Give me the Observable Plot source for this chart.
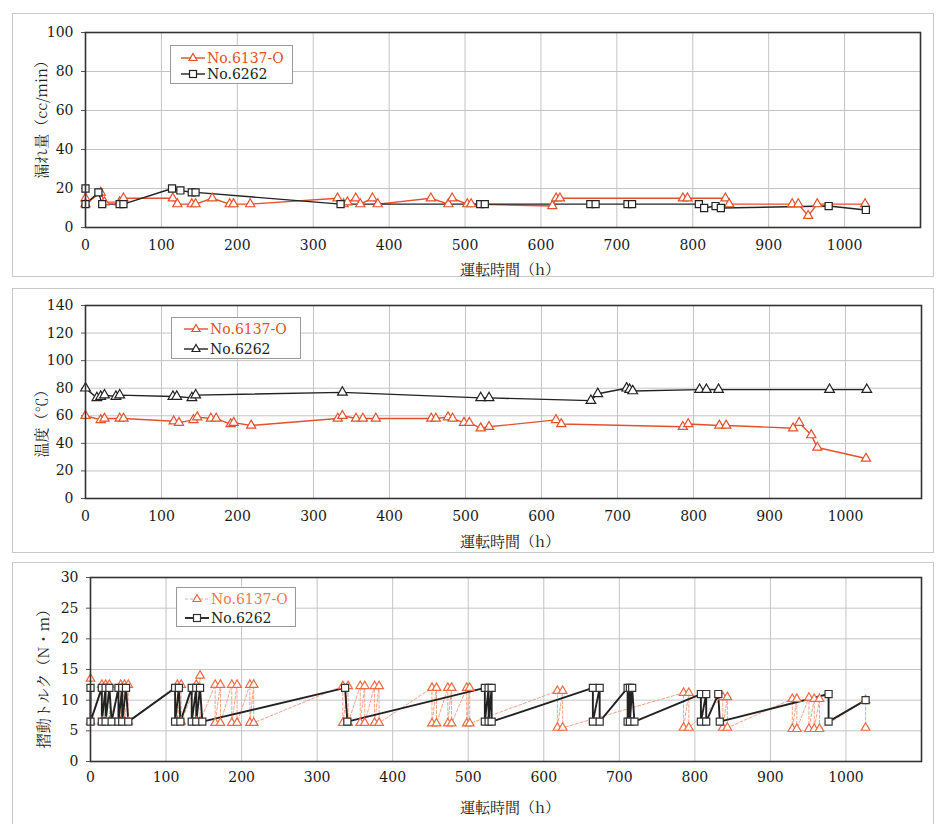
<!DOCTYPE html>
<html>
<head>
<meta charset="utf-8">
<script src="https://cdn.jsdelivr.net/npm/d3@7"></script>
<script src="https://cdn.jsdelivr.net/npm/@observablehq/plot@0.6"></script>
<style>
  body { margin: 0; background: #fff; }
  #root { position: relative; width: 936px; height: 824px; overflow: hidden; background: #fff; }
  .frame { position: absolute; border: 1px solid #c8c8c8; box-sizing: border-box; }
  .plot { position: absolute; left: 0; }
  .ytitle { position: absolute; font-family: "Noto Serif CJK JP", "Noto Sans CJK JP", serif; font-size: 15px; color: #222;
            transform: translate(-50%, -50%) rotate(-90deg); white-space: nowrap; }
  .xtitle { position: absolute; font-family: "Noto Serif CJK JP", "Noto Sans CJK JP", serif; font-size: 15px; color: #222;
            transform: translate(-50%, -50%); white-space: nowrap; }
  .legend { position: absolute; background: #fff; border: 1px solid #9a9a9a; box-sizing: border-box;
            font-family: "DejaVu Serif", serif; font-size: 14px; }
  .legend .row { position: absolute; left: 0; height: 18px; display: flex; align-items: center; white-space: nowrap; }
  .legend svg { display: block; }
</style>
</head>
<body>
<div id="root"></div>
<script>
// ---------- tick labels ----------
const xTicks = [0, 100, 200, 300, 400, 500, 600, 700, 800, 900, 1000];
const leakTicks = [0, 20, 40, 60, 80, 100];
const tempTicks = [0, 20, 40, 60, 80, 100, 120, 140];
const torqueTicks = [0, 5, 10, 15, 20, 25, 30];
const seriesNames = ["No.6137-O", "No.6262"];

// ---------- 漏れ量 (cc/min) ----------
const leakRedT = [0, 0, 20, 25, 45, 50, 115, 121, 140, 145, 167, 190, 195, 217, 332, 340, 345, 356, 362, 378, 385, 455, 478, 483, 503, 508, 615, 620, 625, 787, 793, 843, 848, 931, 939, 952, 964, 1027];
const leakRedV = [15, 12, 18, 13, 13, 15, 15, 12, 12, 12, 15, 12, 12, 12, 15, 12, 13, 15, 12, 15, 12, 15, 12, 15, 12, 12, 11, 15, 15, 15, 15, 15, 12, 12, 12, 6, 12, 12];
const leakBlackT = [0, 0, 17, 22, 45, 50, 114, 125, 140, 145, 336, 520, 526, 665, 672, 714, 720, 808, 815, 830, 837, 979, 1028];
const leakBlackV = [20, 12, 18, 12, 12, 12, 20, 19, 18, 18, 12, 12, 12, 12, 12, 12, 12, 12, 10, 11, 10, 11, 9];

// ---------- 温度 (℃) ----------
const tempRedT = [0, 20, 25, 45, 50, 116, 123, 142, 147, 165, 172, 191, 195, 218, 332, 338, 356, 365, 382, 455, 461, 477, 483, 498, 505, 520, 531, 619, 626, 786, 793, 834, 843, 931, 939, 955, 963, 1027];
const tempRedV = [60, 57, 58, 58, 58, 56, 55, 57, 59, 58, 58, 54, 55, 53, 58, 60, 58, 58, 58, 58, 58, 59, 58, 55, 55, 51, 52, 57, 54, 52, 54, 53, 53, 51, 55, 46, 37, 29];
const tempBlackT = [0, 15, 20, 25, 40, 45, 115, 120, 140, 145, 338, 520, 531, 665, 674, 712, 716, 720, 808, 817, 833, 979, 1028];
const tempBlackV = [80, 73, 74, 75, 74, 75, 74, 74, 73, 75, 77, 73, 73, 71, 76, 80, 79, 78, 79, 79, 79, 79, 79];

// ---------- 摺動トルク (N・m) ----------
const torqueRedT = [0, 0, 15, 15, 20, 20, 25, 25, 40, 40, 45, 45, 50, 50, 115, 115, 120, 120, 140, 140, 145, 145, 165, 165, 172, 172, 187, 187, 194, 194, 211, 211, 216, 216, 334, 334, 341, 341, 357, 357, 363, 363, 376, 376, 382, 382, 452, 452, 458, 458, 473, 473, 478, 478, 498, 498, 502, 502, 618, 618, 625, 625, 785, 785, 792, 792, 837, 837, 843, 843, 929, 929, 935, 935, 951, 951, 958, 958, 965, 965, 1026, 1026];
const torqueRedV = [13.5, 6.5, 12.5, 6.5, 12.5, 6.5, 12.5, 6.5, 12.5, 6.5, 12.5, 6.5, 12.5, 6.5, 12.5, 6.5, 12.5, 6.5, 12.5, 6.5, 14, 6.5, 12.5, 6.3, 12.5, 6.3, 12.5, 6.3, 12.5, 6.3, 12.5, 6.3, 12.5, 6.3, 12.3, 6.3, 12.3, 6.3, 12.3, 6.3, 12.3, 6.3, 12.3, 6.3, 12.3, 6.3, 12, 6.2, 12, 6.2, 12, 6.2, 12, 6.2, 12, 6.2, 12, 6.2, 11.5, 5.5, 11.5, 5.5, 11.2, 5.5, 11.2, 5.5, 10.5, 5.5, 10.5, 5.5, 10.2, 5.3, 10.2, 5.3, 10.4, 5.3, 10.2, 5.3, 10.2, 5.3, 10, 5.5];
const torqueBlackT = [0, 0, 15, 15, 20, 20, 25, 28, 37, 37, 42, 42, 47, 50, 112, 112, 117, 119, 134, 134, 140, 140, 145, 148, 337, 340, 522, 522, 527, 527, 531, 531, 665, 665, 674, 674, 711, 711, 714, 714, 717, 720, 808, 808, 815, 815, 831, 833, 977, 977, 1026];
const torqueBlackV = [12, 6.5, 12, 6.5, 12, 6.5, 12, 6.5, 12, 6.5, 12, 6.5, 12, 6.5, 12, 6.5, 12, 6.5, 12, 6.5, 12, 6.5, 12, 6.5, 12, 6.5, 12, 6.5, 12, 6.5, 12, 6.5, 12, 6.5, 12, 6.5, 12, 6.5, 12, 6.5, 12, 6.5, 11, 6.5, 11, 6.5, 11, 6.5, 11, 6.5, 10];

const RED = "#e4502c";
const RED_LIGHT = "#f2a488";
const BLACK = "#222";
const SERIF = "DejaVu Serif";

const zip = (t, v) => t.map((d, i) => ({x: d, y: v[i]}));

const root = document.getElementById("root");

function addDiv(cls, css, html) {
  const d = document.createElement("div");
  d.className = cls;
  Object.assign(d.style, css);
  if (html != null) d.innerHTML = html;
  root.appendChild(d);
  return d;
}

function panel(o) {
  const marks = [
    Plot.gridX(xTicks, {stroke: "#c4c4c4", strokeOpacity: 1, strokeWidth: 1}),
    Plot.gridY(o.yTicks, {stroke: "#c4c4c4", strokeOpacity: 1, strokeWidth: 1}),
    Plot.axisX(xTicks, {tickSize: 0, tickPadding: o.xPad, label: null, fontSize: 14, fontFamily: SERIF, fill: "#1a1a1a", tickFormat: d => String(d)}),
    Plot.axisY(o.yTicks, {tickSize: 4, tickPadding: 8, label: null, fontSize: 14, fontFamily: SERIF, fill: "#1a1a1a", stroke: "#555", tickFormat: d => String(d)})
  ];
  for (const s of o.series) {
    marks.push(Plot.line(s.data, {x: "x", y: "y", stroke: s.stroke, strokeWidth: s.width, strokeDasharray: s.dash}));
  }
  for (const s of o.series) {
    marks.push(Plot.dot(s.data, {x: "x", y: "y", symbol: s.symbol, r: s.r, stroke: s.mstroke, strokeWidth: 1.2, fill: "white"}));
  }
  marks.push(Plot.frame({stroke: "#333", strokeWidth: 1.6}));
  const svg = Plot.plot({
    width: 936, height: o.height,
    marginLeft: o.ml, marginRight: o.mr, marginTop: o.mt, marginBottom: o.mb,
    x: {domain: [0, 1100]},
    y: {domain: o.yDomain},
    style: {fontFamily: SERIF, fontSize: "14px", color: "#222", background: "transparent", overflow: "visible"},
    marks
  });
  svg.classList.add("plot");
  svg.style.top = o.top + "px";
  root.appendChild(svg);
}

function legend(o) {
  const box = addDiv("legend", {left: o.x + "px", top: o.y + "px", width: o.w + "px", height: o.h + "px"});
  o.items.forEach((it, i) => {
    const row = document.createElement("div");
    row.className = "row";
    row.style.top = (o.rowY[i] - 9) + "px";
    row.style.left = o.swX + "px";
    const mk = it.symbol === "square"
      ? `<rect x="${o.swW / 2 - 3.5}" y="5.5" width="7" height="7" fill="white" stroke="${it.mstroke}" stroke-width="1.2"/>`
      : `<path d="M${o.swW / 2},4.5 L${o.swW / 2 + 4},11.5 L${o.swW / 2 - 4},11.5 Z" fill="white" stroke="${it.mstroke}" stroke-width="1.2"/>`;
    row.innerHTML = `<svg width="${o.swW}" height="18"><line x1="0" x2="${o.swW}" y1="9" y2="9" stroke="${it.stroke}" stroke-width="${it.width}" ${it.dash ? `stroke-dasharray="${it.dash}"` : ""}/>${mk}</svg><span style="color:${it.text};margin-left:2px">${it.name}</span>`;
    box.appendChild(row);
  });
}

// outer panel frames
addDiv("frame", {left: "12px", top: "13px", width: "922px", height: "264px"});
addDiv("frame", {left: "12px", top: "288px", width: "922px", height: "265px"});
addDiv("frame", {left: "12px", top: "562px", width: "922px", height: "280px"});

// Panel 1: leak
panel({
  top: 0, height: 278, ml: 85, mr: 16, mt: 32, mb: 51, xPad: 13,
  yDomain: [0, 100], yTicks: leakTicks,
  series: [
    {data: zip(leakRedT, leakRedV), stroke: RED, width: 1.4, symbol: "triangle", r: 3.4, mstroke: RED},
    {data: zip(leakBlackT, leakBlackV), stroke: BLACK, width: 1.4, symbol: "square", r: 4, mstroke: BLACK}
  ]
});
addDiv("ytitle", {left: "40px", top: "116px"}, "漏れ量（cc/min）");
addDiv("xtitle", {left: "510px", top: "268px"}, "運転時間（h）");
legend({x: 170, y: 45, w: 123, h: 39, swX: 10, swW: 24, rowY: [12, 28],
  items: [
    {name: seriesNames[0], stroke: RED, width: 1.4, symbol: "triangle", mstroke: RED, text: RED},
    {name: seriesNames[1], stroke: BLACK, width: 1.4, symbol: "square", mstroke: BLACK, text: "#222"}
  ]});

// Panel 2: temperature
panel({
  top: 280, height: 270, ml: 85, mr: 15, mt: 25, mb: 52, xPad: 13,
  yDomain: [0, 140], yTicks: tempTicks,
  series: [
    {data: zip(tempRedT, tempRedV), stroke: RED, width: 1.4, symbol: "triangle", r: 3.4, mstroke: RED},
    {data: zip(tempBlackT, tempBlackV), stroke: BLACK, width: 1.4, symbol: "triangle", r: 3.6, mstroke: BLACK}
  ]
});
addDiv("ytitle", {left: "40px", top: "420px"}, "温度（℃）");
addDiv("xtitle", {left: "510px", top: "540px"}, "運転時間（h）");
legend({x: 171, y: 317, w: 130, h: 42, swX: 12, swW: 24, rowY: [11, 31],
  items: [
    {name: seriesNames[0], stroke: RED, width: 1.4, symbol: "triangle", mstroke: RED, text: RED},
    {name: seriesNames[1], stroke: BLACK, width: 1.4, symbol: "triangle", mstroke: BLACK, text: "#222"}
  ]});

// Panel 3: torque
panel({
  top: 555, height: 269, ml: 90, mr: 15, mt: 22, mb: 63, xPad: 11,
  yDomain: [0, 30], yTicks: torqueTicks,
  series: [
    {data: zip(torqueRedT, torqueRedV), stroke: RED_LIGHT, width: 1, dash: "3,2", symbol: "triangle", r: 3.2, mstroke: "#ee6a42"},
    {data: zip(torqueBlackT, torqueBlackV), stroke: BLACK, width: 1.9, symbol: "square", r: 4, mstroke: "#333"}
  ]
});
addDiv("ytitle", {left: "42px", top: "675px"}, "摺動トルク（N・m）");
addDiv("xtitle", {left: "510px", top: "806px"}, "運転時間（h）");
legend({x: 176, y: 587, w: 120, h: 40, swX: 8, swW: 24, rowY: [11, 30],
  items: [
    {name: seriesNames[0], stroke: RED_LIGHT, width: 1, dash: "3,2", symbol: "triangle", mstroke: "#ee6a42", text: "#ee7a52"},
    {name: seriesNames[1], stroke: BLACK, width: 1.9, symbol: "square", mstroke: "#333", text: "#222"}
  ]});
</script>
</body>
</html>
